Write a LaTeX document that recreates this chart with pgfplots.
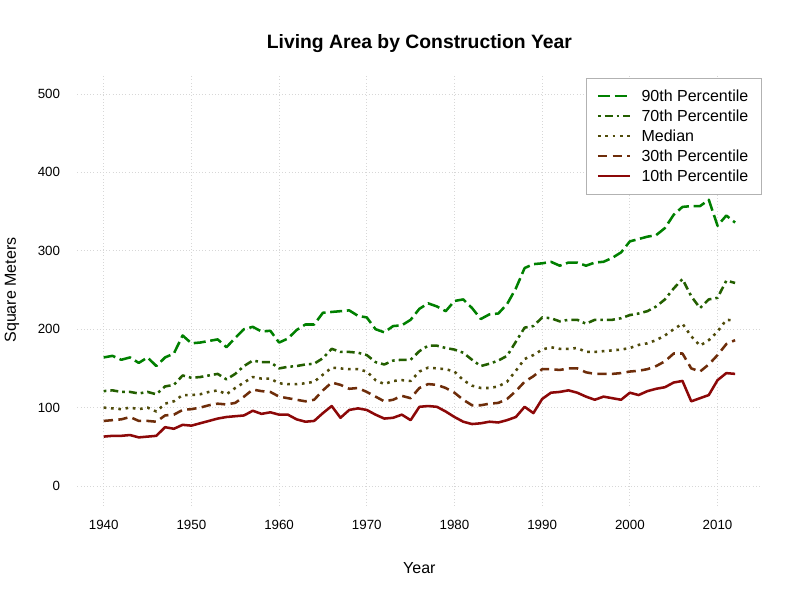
\documentclass[border=0pt]{standalone}
\usepackage{fontspec}
\setmainfont{Liberation Sans}
\usepackage{pgfplots}
\usepackage{pgfplotstable}
\pgfplotsset{compat=1.18}

\definecolor{c90}{RGB}{0,128,0}
\definecolor{c70}{RGB}{35,95,0}
\definecolor{c50}{RGB}{80,75,10}
\definecolor{c30}{RGB}{110,45,10}
\definecolor{c10}{RGB}{140,8,8}
\definecolor{gridc}{RGB}{215,215,215}

% living area percentiles by construction year (square meters)
\pgfplotstableread{
year p90 p70 p50 p30 p10
1940 164 121 100 83 63
1941 166 122 99 84 64
1942 161 120 98 85 64
1943 164 120 100 88 65
1944 157 118 98 83 62
1945 164 120 100 83 63
1946 153 117 95 82 64
1947 164 127 105 90 75
1948 169 129 108 91 73
1949 192 141 116 97 78
1950 182 138 116 98 77
1951 183 139 117 100 80
1952 185 141 120 103 83
1953 187 143 122 105 86
1954 177 136 117 104 88
1955 189 143 125 106 89
1956 200 153 132 114 90
1957 203 160 139 123 96
1958 197 158 137 121 92
1959 198 158 137 120 94
1960 183 150 131 114 91
1961 188 152 130 112 91
1962 199 153 130 110 85
1963 206 155 131 108 82
1964 206 156 133 110 83
1965 221 163 142 122 93
1966 222 175 151 132 102
1967 223 171 150 129 87
1968 224 171 149 124 97
1969 217 170 149 125 99
1970 215 167 146 120 97
1971 200 158 135 114 91
1972 196 155 130 108 86
1973 204 160 134 110 87
1974 205 161 135 115 91
1975 212 161 134 112 84
1976 226 172 146 125 101
1977 233 179 151 130 102
1978 229 179 150 129 101
1979 223 176 149 125 95
1980 236 174 146 119 88
1981 238 170 135 110 82
1982 227 161 128 103 79
1983 213 153 125 103 80
1984 219 156 125 105 82
1985 220 160 127 106 81
1986 232 166 133 111 84
1987 252 184 147 121 88
1988 278 202 162 133 101
1989 283 204 167 140 93
1990 284 215 174 149 111
1991 286 214 177 149 119
1992 281 210 175 148 120
1993 285 212 175 150 122
1994 285 212 176 150 119
1995 281 207 171 145 114
1996 285 212 171 143 110
1997 286 212 172 143 114
1998 291 212 173 143 112
1999 298 214 174 144 110
2000 312 218 176 146 119
2001 315 220 180 147 116
2002 318 223 182 149 121
2003 320 229 186 153 124
2004 329 238 192 159 126
2005 346 252 200 169 132
2006 356 264 207 169 134
2007 357 242 191 150 108
2008 357 227 179 146 112
2009 365 238 186 155 116
2010 332 240 197 167 135
2011 345 262 212 181 144
2012 336 259 211 186 143
}\areadata

\begin{document}
\begin{tikzpicture}
\path[use as bounding box] (-58.05pt,-70.8pt) rectangle (541.95pt,379.2pt);
\begin{axis}[
    at={(0pt,0pt)}, anchor=south west,
    scale only axis,
    width=513pt, height=323.4pt,
    xmin=1937, xmax=2015,
    ymin=-25, ymax=525,
    xtick={1940,1950,...,2010},
    ytick={0,100,...,500},
    /pgf/number format/assume math mode=true,
    xticklabel style={/pgf/number format/1000 sep={}, font=\fontsize{10}{12}\selectfont, yshift=-7.5pt},
    yticklabel style={font=\fontsize{10}{12}\selectfont, xshift=-9.5pt},
    axis line style={draw=none},
    tick style={draw=none},
    grid=major,
    major grid style={gridc, dotted, line width=0.6pt},
    title={\bfseries Living Area by Construction Year},
    title style={font=\fontsize{14.5}{17}\selectfont, at={(axis description cs:0.5,1)}, anchor=center, yshift=17.5pt},
    xlabel={Year},
    ylabel={Square Meters},
    every axis x label/.style={at={(axis description cs:0.5,-0.1447)}, anchor=center, font=\fontsize{12}{14}\selectfont},
    every axis y label/.style={at={(axis description cs:-0.0956,0.5)}, rotate=90, anchor=center, font=\fontsize{12}{14}\selectfont},
    legend style={at={(axis description cs:1,0.992)}, anchor=north east,
      draw=gray!60, line width=0.6pt, fill=white,
      font=\fontsize{12}{14}\selectfont,
      inner xsep=7.5pt, inner ysep=6.5pt, row sep=0.8pt, column sep=6pt,
      cells={anchor=west}},
    legend image code/.code={\draw[#1, line width=1.6pt] (0pt,0pt) -- (24pt,0pt);},
    every axis plot/.append style={line width=1.9pt, line join=round},
    ]
\addplot[c90, dash pattern=on 9pt off 3.5pt] table[x=year, y=p90] {\areadata};
\addplot[c70, dash pattern=on 2pt off 3pt on 6pt off 3pt] table[x=year, y=p70] {\areadata};
\addplot[c50, dash pattern=on 2pt off 3.5pt] table[x=year, y=p50] {\areadata};
\addplot[c30, dash pattern=on 7pt off 4pt] table[x=year, y=p30] {\areadata};
\addplot[c10] table[x=year, y=p10] {\areadata};
\legend{90th Percentile, 70th Percentile, Median, 30th Percentile, 10th Percentile}
\end{axis}
\end{tikzpicture}
\end{document}
